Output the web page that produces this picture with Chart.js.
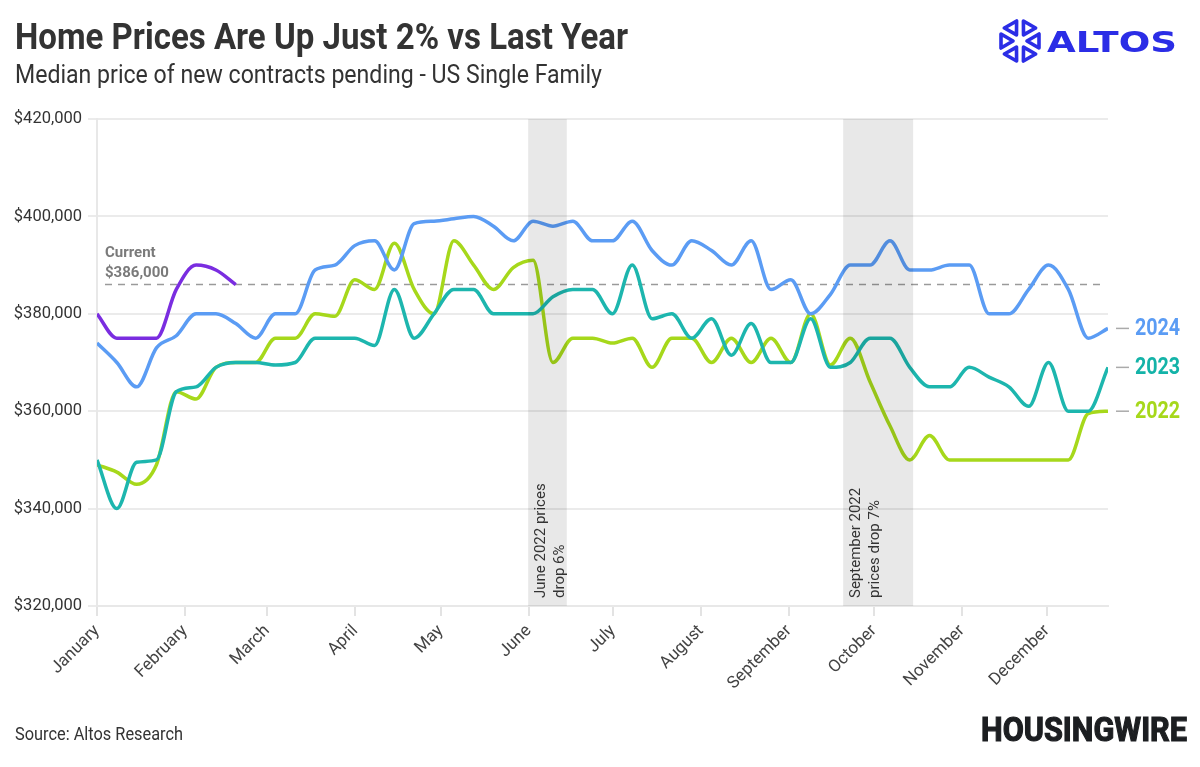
<!DOCTYPE html>
<html lang="en">
<head>
<meta charset="UTF-8" />
<title>Home Prices Are Up Just 2% vs Last Year</title>
<script src="https://cdn.jsdelivr.net/npm/chart.js@4"></script>
<style>
    * { padding: 0; margin: 0; box-sizing: border-box; }
    body { width: 1200px; height: 767px; background: #fff; overflow: hidden; font-family: Roboto, sans-serif; }
    .wrap { position: relative; width: 1200px; height: 767px; }
    #priceChart { position: absolute; left: 0; top: 0; }
    .fit { position: absolute; white-space: nowrap; line-height: 1; transform-origin: 0 0; }
    .title { left: 15px; top: 19px; font-size: 36px; font-weight: 700; color: #333; }
    .subtitle { left: 15px; top: 61px; font-size: 26px; color: #333; }
    .source { left: 15px; top: 725px; font-size: 18px; color: #333; }
    .hw { left: 981px; top: 713px; font-size: 33px; font-weight: 700; color: #1c1e21; -webkit-text-stroke: 1.2px #1c1e21; }
    .altos { left: 1047px; top: 28px; font-family: "DejaVu Sans", sans-serif; font-size: 29px; font-weight: 700; color: #2b2de6; }
    #flake { position: absolute; left: 999px; top: 19px; }
</style>
</head>
<body>
<div class="wrap">
    <canvas id="priceChart" width="1200" height="767"></canvas>
    <div class="fit title" data-w="613">Home Prices Are Up Just 2% vs Last Year</div>
    <div class="fit subtitle" data-w="587">Median price of new contracts pending - US Single Family</div>
    <div class="fit source" data-w="168">Source: Altos Research</div>
    <div class="fit hw" data-w="206">HOUSINGWIRE</div>
    <div class="fit altos" data-w="130">ALTOS</div>
    <svg id="flake" width="42" height="44" viewBox="0 0 42 44"></svg>
</div>

<script>
// weekly median price, week 0 = first week of January
const months = ["January", "February", "March", "April", "May", "June",
    "July", "August", "September", "October", "November", "December"];
const monthWeeks = [0, 4.44, 8.58, 13.04, 17.34, 21.78, 26.03, 30.47, 34.91, 39.2, 43.64, 47.93];
const yTicks = [320000, 340000, 360000, 380000, 400000, 420000];

const prices2025 = [380000, 375000, 375000, 375000, 385000, 390000, 389000, 386000];
const prices2024 = [
    374000, 370000, 365000, 373000, 375500, 380000, 380000, 378000, 375000, 380000, 380000, 389000, 390000, 394000, 395000, 389000,
    398500, 399000, 399500, 400000, 398000, 395000, 399000, 398000, 399000, 395000, 395000, 399000, 393000, 390000, 395000, 393000,
    390000, 395000, 385000, 387000, 380000, 384000, 390000, 390000, 395000, 389000, 389000, 390000, 390000, 380000, 380000, 385000,
    390000, 385000, 375000, 377000];
const prices2023 = [
    350000, 340000, 349500, 350000, 364000, 365000, 369000, 370000, 370000, 369500, 370000, 375000, 375000, 375000, 373500, 385000,
    375000, 380000, 385000, 385000, 380000, 380000, 380000, 383500, 385000, 385000, 380000, 390000, 379000, 380000, 375000, 379000,
    371500, 378000, 370000, 370000, 379000, 369000, 370000, 375000, 375000, 369000, 365000, 365000, 369000, 367000, 365000, 361000,
    370000, 360000, 360000, 369000];
const prices2022 = [
    349000, 347500, 345000, 349000, 364000, 362500, 369000, 370000, 370000, 375000, 375000, 380000, 379500, 387000, 385000, 394500,
    385000, 380000, 395000, 390000, 385000, 389500, 391000, 370000, 375000, 375000, 374000, 375000, 369000, 375000, 375000, 370000,
    375000, 370000, 375000, 370000, 380000, 369500, 375000, 366000, 357000, 350000, 355000, 350000, 350000, 350000, 350000, 350000,
    350000, 350000, 359500, 360000];

const currentPrice = 386000;
const bands = [[21.75, 23.7], [37.64, 41.17]];
const bandNotes = [["June 2022 prices", "drop 6%"], ["September 2022", "prices drop 7%"]];

const series = [
    { label: "2025", data: prices2025, color: "#7a2de0", tag: false },
    { label: "2024", data: prices2024, color: "#5b9cf4", tag: true },
    { label: "2023", data: prices2023, color: "#1db6ae", tag: true },
    { label: "2022", data: prices2022, color: "#a6d81b", tag: true },
];

const toPoints = (arr) => arr.map((v, i) => ({ x: i, y: v }));

const decor = {
    id: "decor",
    beforeDatasetsDraw(chart) {
        const { ctx, chartArea: a, scales: { y } } = chart;
        const cy = y.getPixelForValue(currentPrice);
        ctx.save();
        ctx.strokeStyle = "#9a9a9a";
        ctx.lineWidth = 1.5;
        ctx.setLineDash([7, 6]);
        ctx.beginPath();
        ctx.moveTo(a.left + 8, cy);
        ctx.lineTo(a.right - 5, cy);
        ctx.stroke();
        ctx.restore();
    },
    afterDatasetsDraw(chart) {
        const { ctx, chartArea: a, scales: { x, y } } = chart;
        ctx.save();
        // shaded periods
        bands.forEach((b, i) => {
            const x0 = x.getPixelForValue(b[0]);
            const x1 = x.getPixelForValue(b[1]);
            ctx.fillStyle = "rgba(0,0,0,0.09)";
            ctx.fillRect(x0, a.top, x1 - x0, a.bottom - a.top);
            ctx.fillStyle = "#333";
            ctx.font = "15px Roboto";
            ctx.textAlign = "left";
            ctx.textBaseline = "alphabetic";
            bandNotes[i].forEach((t, j) => {
                ctx.save();
                ctx.translate(x0 + 17 + j * 19, a.bottom - 8);
                ctx.rotate(-Math.PI / 2);
                ctx.fillText(t, 0, 0);
                ctx.restore();
            });
        });

        // current label
        const cy = y.getPixelForValue(currentPrice);
        ctx.fillStyle = "#7a7a7a";
        ctx.font = "bold 15px Roboto";
        ctx.textAlign = "left";
        ctx.fillText("Current", a.left + 8, cy - 28);
        ctx.fillText("$" + currentPrice.toLocaleString("en-US"), a.left + 8, cy - 8);

        // year tags at line ends
        series.filter((s) => s.tag).forEach((s) => {
            const ly = y.getPixelForValue(s.data[s.data.length - 1]);
            ctx.strokeStyle = "#aaa";
            ctx.lineWidth = 1.5;
            ctx.beginPath();
            ctx.moveTo(a.right + 8, ly);
            ctx.lineTo(a.right + 21, ly);
            ctx.stroke();
            ctx.save();
            ctx.translate(a.right + 27, ly);
            ctx.scale(0.82, 1);
            ctx.fillStyle = s.color === "#1db6ae" ? "#14b3a8" : s.color;
            ctx.font = "bold 24px Roboto";
            ctx.textBaseline = "middle";
            ctx.fillText(s.label, 0, 1);
            ctx.restore();
        });
        ctx.restore();
    },
};

new Chart(document.getElementById("priceChart"), {
    type: "line",
    data: {
        datasets: series.map((s) => ({
            label: s.label,
            data: toPoints(s.data),
            borderColor: s.color,
            borderWidth: 3.5,
            pointRadius: 0,
            cubicInterpolationMode: "monotone",
            fill: false,
        })),
    },
    options: {
        responsive: false,
        animation: false,
        layout: { padding: { top: 119, right: 92, left: 0, bottom: 0 } },
        plugins: { legend: { display: false }, tooltip: { enabled: false } },
        scales: {
            x: {
                type: "linear",
                min: 0,
                max: 51,
                afterBuildTicks: (scale) => { scale.ticks = monthWeeks.map((v) => ({ value: v })); },
                afterFit: (scale) => { scale.height = 161; },
                grid: { drawOnChartArea: false, drawTicks: true, tickLength: 10, color: "#e3e3e3", lineWidth: 2 },
                border: { display: true, color: "#e8e8e8", width: 2 },
                ticks: {
                    autoSkip: false,
                    minRotation: 45,
                    maxRotation: 45,
                    padding: 5,
                    color: "#444",
                    font: { family: "Roboto", size: 17 },
                    callback: (v, i) => months[i],
                },
            },
            y: {
                min: 320000,
                max: 420000,
                afterBuildTicks: (scale) => { scale.ticks = yTicks.map((v) => ({ value: v })); },
                afterFit: (scale) => { scale.width = 97; },
                grid: { color: "#ebebeb", lineWidth: 2, tickLength: 9 },
                border: { display: true, color: "#e8e8e8", width: 2 },
                ticks: {
                    color: "#333",
                    padding: 6,
                    font: { family: "Roboto", size: 16.5 },
                    callback: (v) => "$" + v.toLocaleString("en-US"),
                },
            },
        },
    },
    plugins: [decor],
});

// logo mark
const flake = document.getElementById("flake");
let shapes = "";
for (let i = 0; i < 6; i++) {
    const a = (i * 60) * Math.PI / 180;
    const cx = 21, cy = 22;
    const pt = (r, off) => {
        const px = cx + Math.cos(a) * r - Math.sin(a) * off;
        const py = cy + Math.sin(a) * r + Math.cos(a) * off;
        return px.toFixed(1) + "," + py.toFixed(1);
    };
    shapes += `<polygon points="${pt(7, 0)} ${pt(19, -7)} ${pt(19, 7)}" fill="none" stroke="#2b2de6" stroke-width="3.6" stroke-linejoin="round"/>`;
}
flake.innerHTML = shapes;

// squeeze html text to match the condensed type
document.fonts.ready.then(() => {
    document.querySelectorAll(".fit").forEach((el) => {
        const w = el.getBoundingClientRect().width;
        el.style.transform = "scaleX(" + (Number(el.dataset.w) / w) + ")";
    });
});
</script>
</body>
</html>
